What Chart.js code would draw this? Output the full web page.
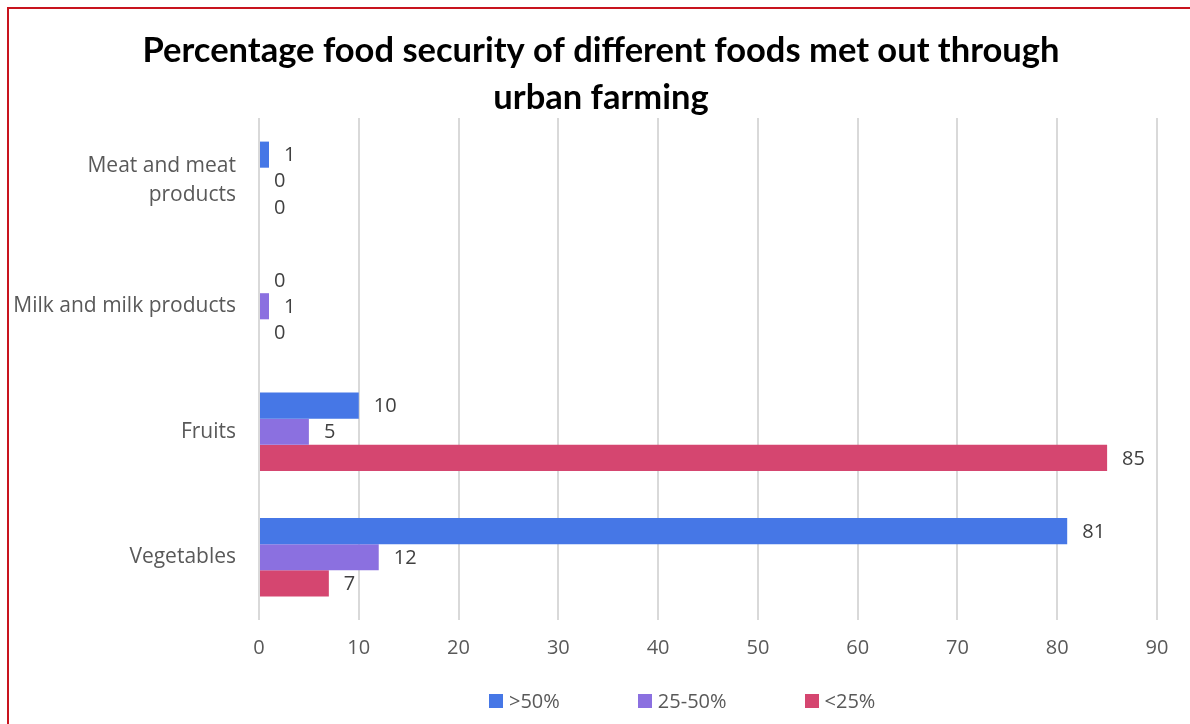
<!DOCTYPE html>
<html>
<head>
<meta charset="utf-8">
<script src="https://cdn.jsdelivr.net/npm/chart.js@4/dist/chart.umd.min.js"></script>
<style>
  html, body { margin: 0; padding: 0; background: #fff; overflow: hidden; }
  #wrap { position: relative; width: 1190px; height: 724px; }
  #frame { position: absolute; left: 7px; top: 7px; right: -20px; bottom: -20px; border: 2px solid #c8141e; pointer-events: none; }
  #legend { position: absolute; left: 489px; top: 687px; display: flex; gap: 78px; font: 20px 'Open Sans'; color: #595959; }
  #legend span.item { display: flex; align-items: center; }
  #legend i { display: inline-block; width: 14px; height: 14px; margin-right: 6px; }
</style>
</head>
<body>
<div id="wrap">
  <canvas id="chart" width="1190" height="724"></canvas>
  <div id="legend"></div>
  <div id="frame"></div>
</div>
<script>
// categories, top to bottom
var categories = [["Meat and meat", "products"], "Milk and milk products", "Fruits", "Vegetables"];
var seriesNames = [">50%", "25-50%", "<25%"];
var above50 = [1, 0, 10, 81];
var between25and50 = [0, 1, 5, 12];
var below25 = [0, 0, 85, 7];
var xTicks = [0, 10, 20, 30, 40, 50, 60, 70, 80, 90];
var titleLines = ["Percentage food security of different foods met out through", "urban farming"];

var colors = ["#4677e6", "#8b70e0", "#d54670"];

// draws the value next to the end of each bar
var valueLabels = {
	id: 'valueLabels',
	afterDatasetsDraw: function(chart) {
		var ctx = chart.ctx;
		ctx.save();
		ctx.font = "20px 'Open Sans'";
		ctx.fillStyle = "#404040";
		ctx.textAlign = "left";
		ctx.textBaseline = "middle";
		chart.data.datasets.forEach(function(ds, i) {
			var meta = chart.getDatasetMeta(i);
			meta.data.forEach(function(bar, j) {
				ctx.fillText(String(ds.data[j]), bar.x + 15, bar.y + 1);
			});
		});
		ctx.restore();
	}
};

// title is centred on the whole picture, not on the padded box
var pageTitle = {
	id: 'pageTitle',
	afterDraw: function(chart) {
		var ctx = chart.ctx;
		ctx.save();
		ctx.font = "bold 34.5px Lato";
		ctx.fillStyle = "#000";
		ctx.textAlign = "center";
		ctx.textBaseline = "middle";
		titleLines.forEach(function(line, i) {
			ctx.fillText(line, 601, 51 + i * 47);
		});
		ctx.restore();
	}
};

var chart = new Chart(document.getElementById("chart"), {
	type: 'bar',
	data: {
		labels: categories,
		datasets: [
			{ label: seriesNames[0], data: above50, backgroundColor: colors[0] },
			{ label: seriesNames[1], data: between25and50, backgroundColor: colors[1] },
			{ label: seriesNames[2], data: below25, backgroundColor: colors[2] }
		]
	},
	options: {
		indexAxis: 'y',
		responsive: false,
		animation: false,
		categoryPercentage: 0.624,
		barPercentage: 1,
		layout: { padding: { left: 0, right: 33, top: 118, bottom: 48 } },
		scales: {
			x: {
				min: 0,
				max: 90,
				afterBuildTicks: function(axis) {
					axis.ticks = xTicks.map(function(v) { return { value: v }; });
				},
				grid: { color: "#d9d9d9", lineWidth: 2, drawTicks: false },
				border: { display: false },
				ticks: { color: "#595959", font: { family: "Open Sans", size: 20 }, padding: 16 }
			},
			y: {
				afterFit: function(axis) { axis.width = 259; },
				grid: { display: false },
				border: { display: false },
				ticks: { color: "#595959", font: { family: "Open Sans", size: 21, lineHeight: 1.4 }, padding: 15 }
			}
		},
		plugins: {
			title: { display: false },
			legend: { display: false },
			tooltip: { enabled: false }
		}
	},
	plugins: [valueLabels, pageTitle]
});

// legend in the same order and colours as the datasets
var legend = document.getElementById("legend");
seriesNames.forEach(function(name, i) {
	var item = document.createElement("span");
	item.className = "item";
	var box = document.createElement("i");
	box.style.background = colors[i];
	item.appendChild(box);
	item.appendChild(document.createTextNode(name));
	legend.appendChild(item);
});
</script>
</body>
</html>
